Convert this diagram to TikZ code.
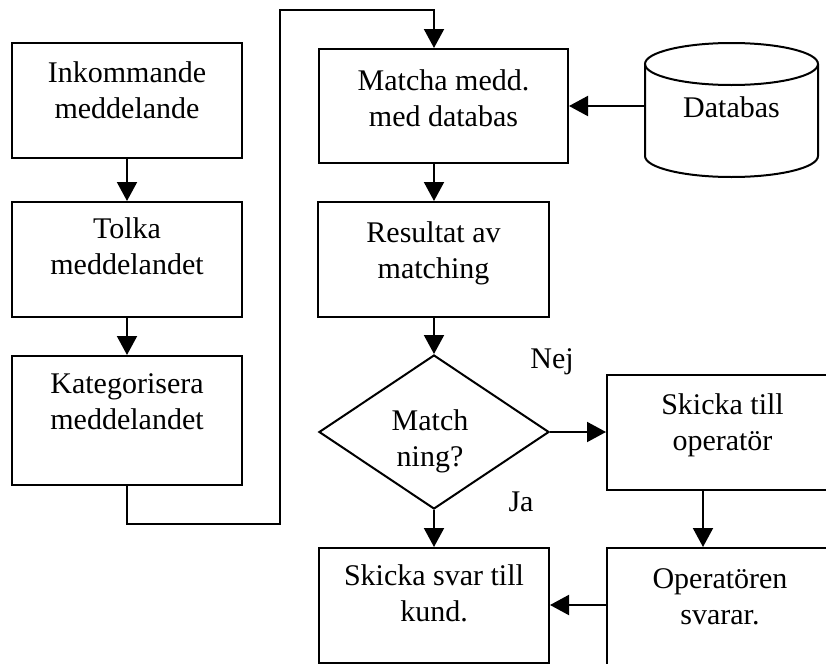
\documentclass[tikz,border=0pt]{standalone}
\usepackage{fontspec}
\setmainfont{Liberation Serif}
\usetikzlibrary{arrows.meta,shapes.geometric,fit,calc}
\begin{document}
\begin{tikzpicture}[x=0.75pt,y=-0.75pt,
  ln/.style={line width=1.5pt},
  box/.style={draw,ln,rectangle,inner sep=0pt,fit={#1}},
  hid/.style={rectangle,inner sep=0pt,fit={#1}},
  txt/.style={align=center,inner sep=0pt,anchor=north,font=\fontsize{22.5}{27}\selectfont},
  lbl/.style={inner sep=0pt,font=\fontsize{22.5}{27}\selectfont},
  arr/.style={ln,-{Triangle[length=14.25pt,width=15pt]}},
  dec/.style={draw,ln,diamond,inner sep=0pt,minimum width=172.5pt,minimum height=115.5pt}
]
\clip (0,0) rectangle (826,664);
\useasboundingbox (0,0) rectangle (826,664);

% boxes
\node[box={(12,43) (242,158)}] (in) {};
\node[box={(12,202) (242,317)}] (tolka) {};
\node[box={(12,356) (242,485)}] (kat) {};
\node[box={(319,49) (568,163)}] (mat) {};
\node[hid={(645,43) (818,177)}] (db) {};
\node[box={(318,202) (549,317)}] (res) {};
\node[dec] (dia) at (434,432) {};
\node[box={(607,375) (840,490)}] (op) {};
\node[box={(319,548) (549,663)}] (svar) {};
\node[box={(607,548) (840,680)}] (opsv) {};

% cylinder
\draw[ln] (731.5,64) ellipse [x radius=64.875pt, y radius=15.75pt];
\draw[ln] (645,64) -- (645,156) arc[start angle=180, end angle=360, x radius=64.875pt, y radius=15.75pt] -- (818,64);

% texts
\node[txt] (tin) at ($(in.north)+(0,19)$) {Inkommande\\meddelande};
\node[txt] (ttolka) at ($(tolka.north)+(0,16)$) {Tolka\\meddelandet};
\node[txt] (tkat) at ($(kat.north)+(0,18)$) {Kategorisera\\meddelandet};
\node[txt] (tmat) at ($(mat.north)+(0,21)$) {Matcha medd.\\med databas};
\node[lbl] (tdb) at (731.5,107) {Databas};
\node[txt] (tres) at ($(res.north)+(0,20)$) {Resultat av\\matching};
\node[txt] (tdia) at (430,409) {Match\\ning?};
\node[txt] (top) at (722.5,393) {Skicka till\\operatör};
\node[txt] (tsvar) at ($(svar.north)+(0,17)$) {Skicka svar till\\kund.};
\node[txt] (topsv) at (720,568) {Operatören\\svarar.};
\node[lbl] (nej) at (552,362) {Nej};
\node[lbl] (ja) at (521,502) {Ja};

% routing coordinates
\coordinate (c1) at (280,524);
\coordinate (c2) at (280,10);
\coordinate (c3) at (434,10);
\coordinate (c4) at (703,0);
\coordinate (c5) at (0,605);

% connectors
\draw[arr] (in.south) -- (tolka.north);
\draw[arr] (tolka.south) -- (kat.north);
\draw[arr] (kat.south) |- (c1) -- (c2) -- (c3) -- (c3 |- mat.north);
\draw[arr] (db.west |- mat.east) -- (mat.east);
\draw[arr] (c3 |- mat.south) -- (c3 |- res.north);
\draw[arr] (c3 |- res.south) -- (dia.north);
\draw[arr] (dia.east) -- (dia.east -| op.west);
\draw[arr] (dia.south) -- (c3 |- svar.north);
\draw[arr] (c4 |- op.south) -- (c4 |- opsv.north);
\draw[arr] (opsv.west |- c5) -- (svar.east |- c5);
\end{tikzpicture}
\end{document}
